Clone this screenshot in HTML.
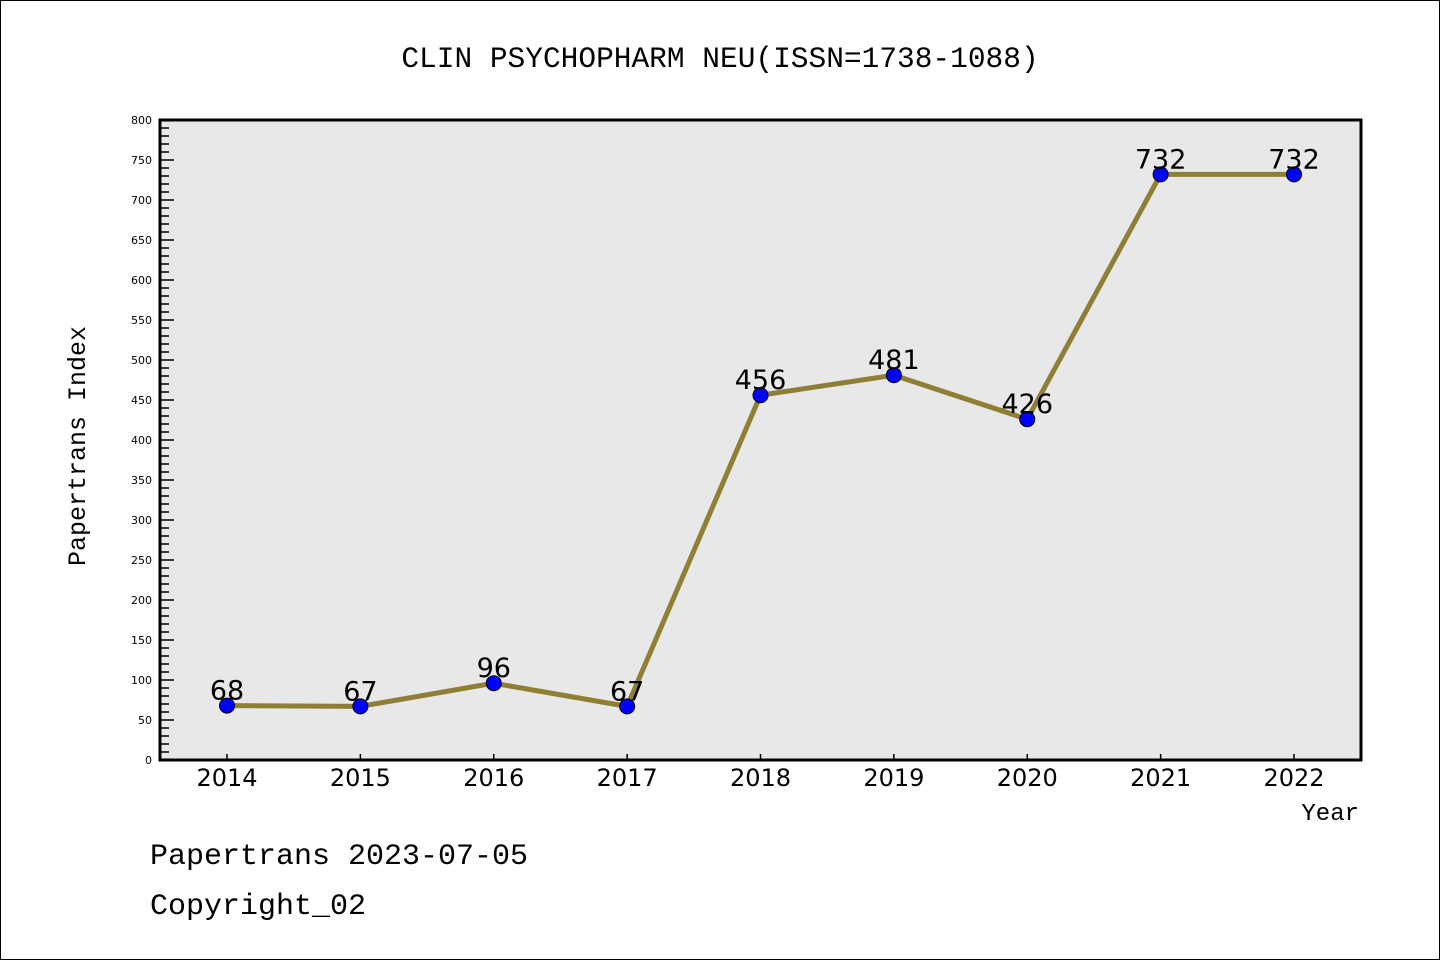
<!DOCTYPE html>
<html><head><meta charset="utf-8"><style>
body{margin:0;background:#fff}
svg{display:block}
.mono{font-family:"Liberation Mono","DejaVu Sans Mono",monospace}
.sans{font-family:"DejaVu Sans","Liberation Sans",sans-serif}
</style></head><body>
<svg width="1440" height="960" viewBox="0 0 1440 960">
<rect x="0.5" y="0.5" width="1439" height="959" fill="#fff" stroke="#000"/>
<text class="mono" x="720" y="67" text-anchor="middle" font-size="29.5">CLIN PSYCHOPHARM NEU(ISSN=1738-1088)</text>
<rect x="160" y="120" width="1201" height="640" fill="#e8e8e8"/>
<g id="ticks"></g>
<g id="series"></g>
<rect x="160" y="120" width="1201" height="640" fill="none" stroke="#000" stroke-width="3"/>
<text class="mono" transform="translate(85,446) rotate(-90)" text-anchor="middle" font-size="25">Papertrans Index</text>
<text class="mono" x="1359" y="820" text-anchor="end" font-size="24">Year</text>
<text class="mono" x="150" y="864" font-size="30">Papertrans 2023-07-05</text>
<text class="mono" x="150" y="914" font-size="30">Copyright_02</text>
</svg>
<script>
const years=["2014","2015","2016","2017","2018","2019","2020","2021","2022"];
const values=[68,67,96,67,456,481,426,732,732];
const yTicks=[0,50,100,150,200,250,300,350,400,450,500,550,600,650,700,750,800];
const NS="http://www.w3.org/2000/svg";
const x=i=>227+i*(1294-227)/(years.length-1);
const y=v=>760-v*640/800;
function mk(t,a,p){const e=document.createElementNS(NS,t);for(const k in a)e.setAttribute(k,a[k]);p.appendChild(e);return e;}
const tg=document.getElementById('ticks');
for(let v=0;v<=800;v+=10){
 const major=v%50===0;
 const l=mk('line',{x1:160,x2:major?174:169,y1:y(v),y2:y(v),stroke:'#000','stroke-width':1.5},tg);
 
 
}
yTicks.forEach(v=>{
 const t=mk('text',{x:152,y:y(v)+4,'text-anchor':'end','font-size':11,'class':'sans'},tg);
 t.textContent=v;
 
 
});
years.forEach((yr,i)=>{
 const l=mk('line',{x1:x(i),x2:x(i),y1:760,y2:754,stroke:'#000','stroke-width':1.5},tg);
 
 
 const t=mk('text',{x:x(i),y:786,'text-anchor':'middle','font-size':24,'class':'sans'},tg);
 t.textContent=yr;
 
 
});
const sg=document.getElementById('series');
const pl=mk('polyline',{points:values.map((v,i)=>x(i)+','+y(v)).join(' '),fill:'none',stroke:'#8f7f35','stroke-width':5},sg);


values.forEach((v,i)=>{
 const c=mk('circle',{cx:x(i),cy:y(v),r:7.5,fill:'#0000ff',stroke:'#000','stroke-width':1},sg);
 
 
 const t=mk('text',{x:x(i),y:y(v)-6,'text-anchor':'middle','font-size':27,'class':'sans'},sg);
 t.textContent=v;
 
 
});
</script>
</body></html>
